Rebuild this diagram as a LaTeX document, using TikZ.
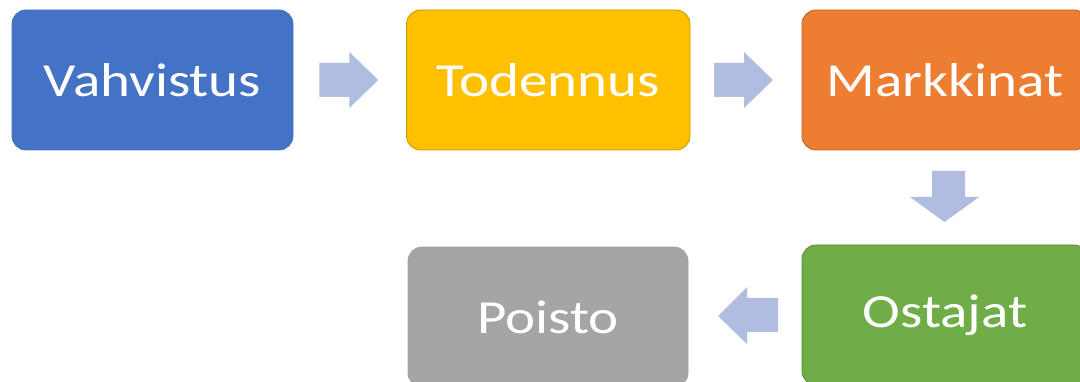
\documentclass[tikz,border=0pt]{standalone}
\usepackage{fontspec}
\setmainfont{Carlito}
\usetikzlibrary{calc}
\definecolor{cblue}{HTML}{4472C4}
\definecolor{cgold}{HTML}{FFC000}
\definecolor{cgoldb}{HTML}{C89600}
\definecolor{corange}{HTML}{ED7D31}
\definecolor{corangeb}{HTML}{B8612A}
\definecolor{cgreen}{HTML}{70AD47}
\definecolor{cgreenb}{HTML}{558A35}
\definecolor{cgray}{HTML}{A5A5A5}
\definecolor{carrow}{HTML}{B0BDE0}
\tikzset{
  stepbox/.style={rounded corners=14pt, line width=0.8pt, minimum width=280pt, minimum height=140pt,
    inner sep=0pt, text=white, font=\fontsize{47.5}{50}\selectfont},
  blockarrow/.style={fill=carrow, draw=none},
}
\newcommand{\wtext}[1]{\scalebox{1.2}[1]{#1}}
\begin{document}
\begin{tikzpicture}[x=1pt,y=-1pt]
\useasboundingbox (0,0) rectangle (1080,382);
\fill[white] (0,0) rectangle (1080,382);
\node[stepbox, fill=cblue, draw=cblue, minimum width=281pt] (vah) at (152.5,80) {\wtext{Vahvistus}};
\node[stepbox, fill=cgold, draw=cgoldb, minimum width=283.5pt] (tod) at (548.25,80) {\wtext{Todennus}};
\node[stepbox, fill=corange, draw=corangeb, minimum width=286pt] (mar) at (945,80) {\wtext{Markkinat}};
\node[stepbox, fill=cgreen, draw=cgreenb, minimum width=286pt] (ost) at (945,315) {\wtext{Ostajat}};
\node[stepbox, fill=cgray, draw=cgray] (poi) at (548,317) {\wtext{Poisto}};
% right arrows
\coordinate (m1) at ($(vah.east)!0.5!(tod.west)$);
\fill[blockarrow] ($(m1)+(-30.5,-17)$) -- ($(m1)+(-0.5,-17)$) -- ($(m1)+(-0.5,-28)$) -- ($(m1)+(28.5,0)$)
  -- ($(m1)+(-0.5,28)$) -- ($(m1)+(-0.5,17)$) -- ($(m1)+(-30.5,17)$) -- cycle;
\coordinate (m2) at ($(tod.east)!0.5!(mar.west)$);
\fill[blockarrow] ($(m2)+(-32,-17)$) -- ($(m2)+(-2,-17)$) -- ($(m2)+(-2,-28)$) -- ($(m2)+(27,0)$)
  -- ($(m2)+(-2,28)$) -- ($(m2)+(-2,17)$) -- ($(m2)+(-32,17)$) -- cycle;
% down arrow
\coordinate (m3) at ($(mar.south)!0.5!(ost.north)$);
\fill[blockarrow] ($(m3)+(-13,-26.5)$) -- ($(m3)+(20,-26.5)$) -- ($(m3)+(20,-0.5)$) -- ($(m3)+(34,-0.5)$)
  -- ($(m3)+(-0.5,24.5)$) -- ($(m3)+(-35,-0.5)$) -- ($(m3)+(-13,-0.5)$) -- cycle;
% left arrow
\coordinate (m4) at ($(ost.west)!0.5!(poi.east)$);
\fill[blockarrow] ($(m4)+(33,-18)$) -- ($(m4)+(2,-18)$) -- ($(m4)+(2,-29)$) -- ($(m4)+(-27,0)$)
  -- ($(m4)+(2,28)$) -- ($(m4)+(2,16)$) -- ($(m4)+(33,16)$) -- cycle;
\end{tikzpicture}
\end{document}
